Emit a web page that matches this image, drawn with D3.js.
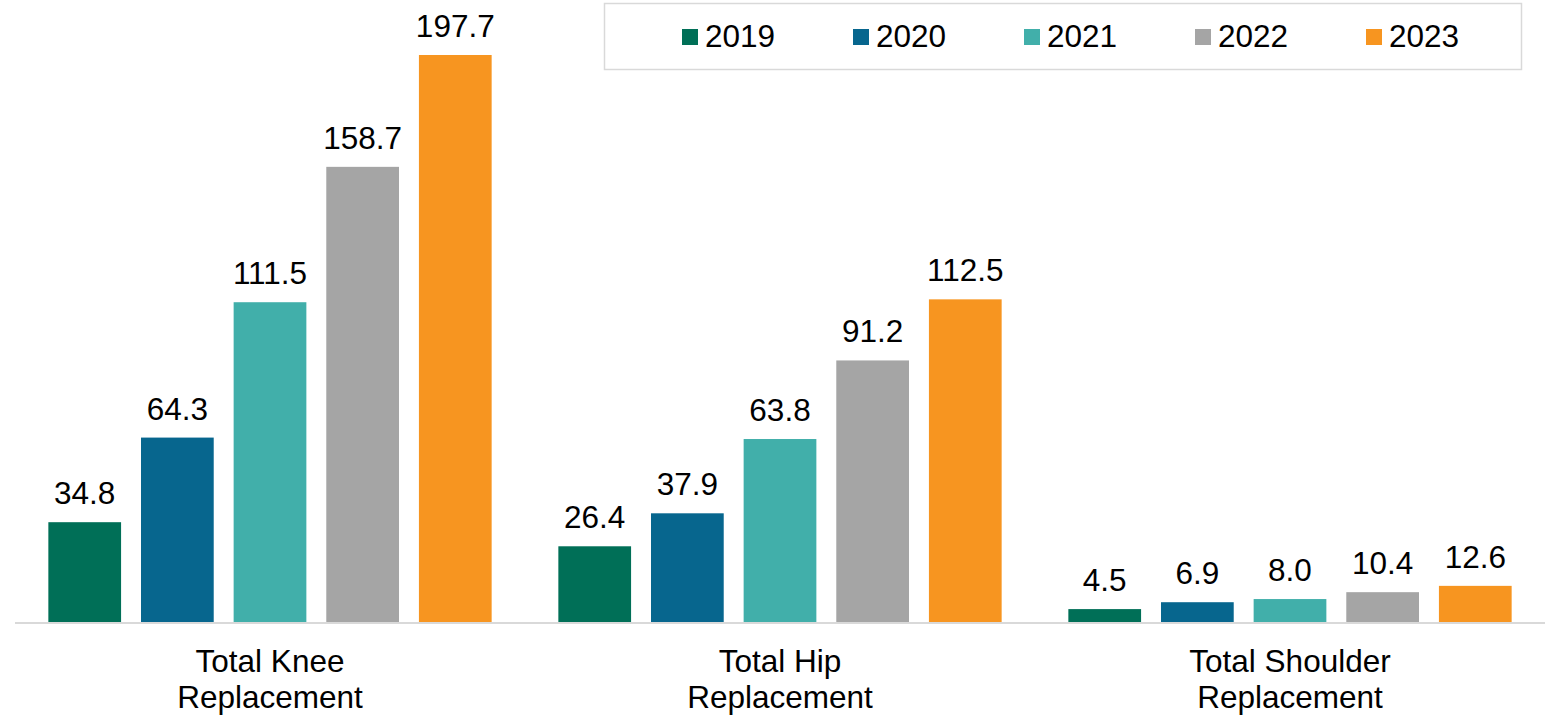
<!DOCTYPE html>
<html>
<head>
<meta charset="utf-8">
<script src="https://cdn.jsdelivr.net/npm/d3@7"></script>
<style>
  body { margin: 0; background: #fff; }
  text { font-family: "Liberation Sans", Arial, sans-serif; fill: #000; }
</style>
</head>
<body>
<div id="chart"></div>
<script>
const WIDTH = 1552;
const HEIGHT = 715;

// data
const categories = [["Total Knee", "Replacement"], ["Total Hip", "Replacement"], ["Total Shoulder", "Replacement"]];
const years = ["2019", "2020", "2021", "2022", "2023"];
const colours = ["#006F57", "#07668E", "#41AFAA", "#A5A5A5", "#F79520"];
const values2019 = [34.8, 26.4, 4.5];
const values2020 = [64.3, 37.9, 6.9];
const values2021 = [111.5, 63.8, 8.0];
const values2022 = [158.7, 91.2, 10.4];
const values2023 = [197.7, 112.5, 12.6];
const series = [values2019, values2020, values2021, values2022, values2023];

const BASELINE = 622;
const FONT = 31.5;

const svg = d3.select("#chart")
  .append("svg")
  .attr("width", WIDTH)
  .attr("height", HEIGHT);

const x0 = d3.scaleBand()
  .domain(d3.range(categories.length))
  .range([15, 1545]);

const x1 = d3.scaleBand()
  .domain(years)
  .range([0, x0.bandwidth()])
  .paddingInner(0.215)
  .paddingOuter(0.36);

const y = d3.scaleLinear()
  .domain([0, 200])
  .range([BASELINE, BASELINE - 200 * 2.868]);

const colour = d3.scaleOrdinal().domain(years).range(colours);

// bars
const groups = svg.append("g")
  .selectAll("g")
  .data(categories)
  .enter()
  .append("g")
  .attr("transform", (d, i) => `translate(${x0(i)},0)`);

groups.selectAll("rect")
  .data((d, i) => years.map((yr, j) => ({ yr, v: series[j][i] })))
  .enter()
  .append("rect")
  .attr("x", d => x1(d.yr))
  .attr("width", x1.bandwidth())
  .attr("y", d => y(d.v))
  .attr("height", d => BASELINE - y(d.v))
  .attr("fill", d => colour(d.yr));

// value labels
groups.selectAll("text.value")
  .data((d, i) => years.map((yr, j) => ({ yr, v: series[j][i] })))
  .enter()
  .append("text")
  .attr("class", "value")
  .attr("x", d => x1(d.yr) + x1.bandwidth() / 2)
  .attr("y", d => y(d.v) - 18)
  .attr("text-anchor", "middle")
  .attr("font-size", FONT)
  .text(d => d.v.toFixed(1));

// axis line
svg.append("line")
  .attr("x1", x0.range()[0])
  .attr("x2", x0.range()[1])
  .attr("y1", BASELINE + 1)
  .attr("y2", BASELINE + 1)
  .attr("stroke", "#d9d9d9")
  .attr("stroke-width", 2);

// category labels
const cat = svg.append("g")
  .selectAll("text")
  .data(categories)
  .enter()
  .append("text")
  .attr("text-anchor", "middle")
  .attr("font-size", FONT)
  .attr("transform", (d, i) => `translate(${x0(i) + x0.bandwidth() / 2},672)`);

cat.selectAll("tspan")
  .data(d => d)
  .enter()
  .append("tspan")
  .attr("x", 0)
  .attr("dy", (d, i) => i === 0 ? 0 : 36)
  .text(d => d);

// legend
const legend = svg.append("g");
legend.append("rect")
  .attr("x", 604.5)
  .attr("y", 3.5)
  .attr("width", 917)
  .attr("height", 66)
  .attr("fill", "#fff")
  .attr("stroke", "#d9d9d9")
  .attr("stroke-width", 1.5);

const items = legend.selectAll("g.item")
  .data(years)
  .enter()
  .append("g")
  .attr("class", "item")
  .attr("transform", (d, i) => `translate(${682 + i * 171},0)`);

items.append("rect")
  .attr("x", 0)
  .attr("y", 29)
  .attr("width", 16)
  .attr("height", 16)
  .attr("fill", d => colour(d));

items.append("text")
  .attr("x", 23)
  .attr("y", 47)
  .attr("font-size", FONT)
  .text(d => d);
</script>
</body>
</html>
